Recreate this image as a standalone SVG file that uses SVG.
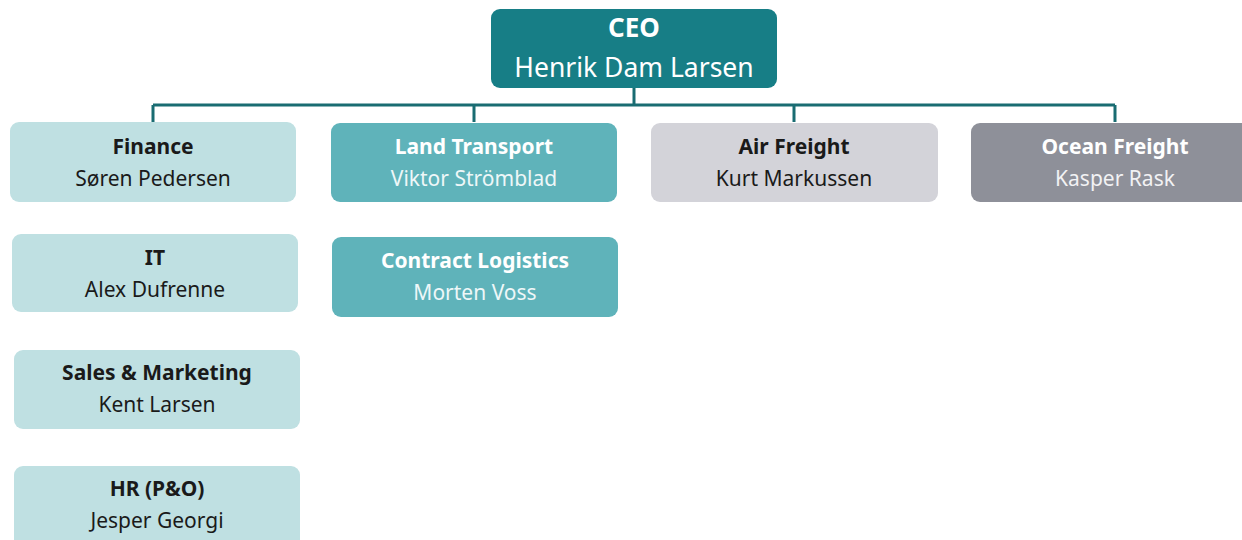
<svg xmlns="http://www.w3.org/2000/svg" width="1242" height="540" viewBox="0 0 1242 540">
<style>
text{font-family:"Noto Sans","Open Sans","DejaVu Sans",sans-serif;text-anchor:middle}
.t{font-size:21px;font-weight:bold}
.n{font-size:21px}
.dk{fill:#1a1a1a}
.wh{fill:#ffffff}
.lt{fill:#bfe0e2}
.md{fill:#5fb3ba}
.gr{fill:#d3d3d9}
.dg{fill:#8e9099}
.conn{stroke:#196c72;stroke-width:3;fill:none}
</style>
<rect width="1242" height="540" fill="#ffffff"/>
<g id="connectors" class="conn">
<path d="M634 88V105"/>
<path d="M153 105H1115"/>
<path d="M153 105V122M474 105V122M794 105V122M1115 105V122"/>
</g>
<g id="ceo">
<rect x="491" y="9" width="286" height="79" rx="9" fill="#177e86"/>
<text x="634" y="37" class="wh" style="font-size:26px;font-weight:bold">CEO</text>
<text x="634" y="77" class="wh" style="font-size:26.5px">Henrik Dam Larsen</text>
</g>
<g id="finance">
<rect x="10" y="122" width="286" height="80" rx="9" class="lt"/>
<text x="153" y="154" class="t dk">Finance</text>
<text x="153" y="186" class="n dk">Søren Pedersen</text>
</g>
<g id="it">
<rect x="12" y="234" width="286" height="78" rx="9" class="lt"/>
<text x="155" y="265" class="t dk">IT</text>
<text x="155" y="297" class="n dk">Alex Dufrenne</text>
</g>
<g id="sales">
<rect x="14" y="350" width="286" height="79" rx="9" class="lt"/>
<text x="157" y="380" class="t dk">Sales &amp; Marketing</text>
<text x="157" y="412" class="n dk">Kent Larsen</text>
</g>
<g id="hr">
<rect x="14" y="466" width="286" height="90" rx="9" class="lt"/>
<text x="157" y="496" class="t dk">HR (P&amp;O)</text>
<text x="157" y="528" class="n dk">Jesper Georgi</text>
</g>
<g id="land">
<rect x="331" y="123" width="286" height="79" rx="9" class="md"/>
<text x="474" y="154" class="t wh">Land Transport</text>
<text x="474" y="186" class="n" fill="#eef7f8">Viktor Strömblad</text>
</g>
<g id="contract">
<rect x="332" y="237" width="286" height="80" rx="9" class="md"/>
<text x="475" y="268" class="t wh">Contract Logistics</text>
<text x="475" y="300" class="n" fill="#eef7f8">Morten Voss</text>
</g>
<g id="air">
<rect x="651" y="123" width="287" height="79" rx="9" class="gr"/>
<text x="794" y="154" class="t dk">Air Freight</text>
<text x="794" y="186" class="n dk">Kurt Markussen</text>
</g>
<g id="ocean">
<rect x="971" y="123" width="290" height="79" rx="9" class="dg"/>
<text x="1115" y="154" class="t wh">Ocean Freight</text>
<text x="1115" y="186" class="n" fill="#f2f2f4">Kasper Rask</text>
</g>
</svg>
